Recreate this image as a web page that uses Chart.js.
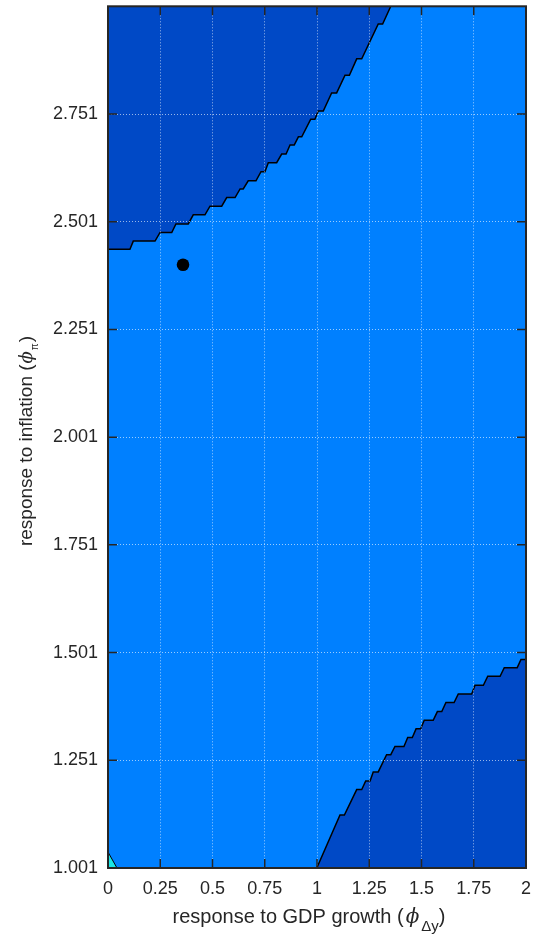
<!DOCTYPE html>
<html lang="en">
<head>
    <meta charset="UTF-8">
    <title>Determinacy region</title>
    <script src="https://cdn.jsdelivr.net/npm/chart.js"></script>
    <style>
        html, body { margin: 0; padding: 0; background: #ffffff; }
        #wrap { width: 535px; height: 940px; }
    </style>
</head>
<body>
    <div id="wrap"><canvas id="regionChart" width="535" height="940"></canvas></div>

    <script>
        // tick labels
        const xTicks = [0, 0.25, 0.5, 0.75, 1, 1.25, 1.5, 1.75, 2];
        const yTicks = [1.001, 1.251, 1.501, 1.751, 2.001, 2.251, 2.501, 2.751];

        // upper-left region boundary (contour line)
        const upperX = [0, 0.105, 0.121, 0.225, 0.249, 0.305, 0.325, 0.384, 0.408, 0.464, 0.488, 0.544, 0.568, 0.608,
            0.632, 0.647, 0.671, 0.708, 0.732, 0.751, 0.767, 0.807, 0.831, 0.852, 0.871, 0.891, 0.911, 0.927,
            0.970, 0.990, 1.006, 1.030, 1.070, 1.094, 1.134, 1.155, 1.190, 1.214, 1.293, 1.314, 1.353];
        const upperY = [2.437, 2.437, 2.456, 2.456, 2.476, 2.476, 2.496, 2.496, 2.517, 2.517, 2.537, 2.537, 2.557, 2.557,
            2.577, 2.577, 2.596, 2.596, 2.617, 2.617, 2.638, 2.638, 2.658, 2.658, 2.679, 2.679, 2.698, 2.698,
            2.739, 2.739, 2.758, 2.758, 2.800, 2.800, 2.841, 2.841, 2.879, 2.879, 2.960, 2.960, 3.001];

        // lower-right region boundary
        const lowerX = [0.999, 1.110, 1.131, 1.190, 1.214, 1.233, 1.254, 1.269, 1.293, 1.333, 1.353, 1.373, 1.416,
            1.434, 1.456, 1.474, 1.496, 1.513, 1.556, 1.576, 1.597, 1.617, 1.656, 1.676, 1.740, 1.756, 1.796,
            1.817, 1.876, 1.896, 1.958, 1.976, 2.0];
        const lowerY = [1.001, 1.124, 1.124, 1.183, 1.183, 1.203, 1.203, 1.224, 1.224, 1.264, 1.264, 1.283, 1.283,
            1.304, 1.304, 1.324, 1.324, 1.344, 1.344, 1.364, 1.364, 1.385, 1.385, 1.405, 1.405, 1.425, 1.425,
            1.446, 1.446, 1.466, 1.466, 1.485, 1.485];

        // little corner region
        const cornerX = [0, 0.043];
        const cornerY = [1.038, 1.001];

        // calibrated point
        const pointX = [0.359];
        const pointY = [2.401];

        const lightBlue = '#0080ff';
        const darkBlue = '#0049c6';
        const cyan = '#19e6e6';
        const axisColor = '#262626';
        const fontFam = '"Liberation Sans", Arial, sans-serif';

        function pts(xs, ys) {
            return xs.map((x, i) => ({ x: x, y: ys[i] }));
        }

        const backgroundPlugin = {
            id: 'plotBg',
            beforeDatasetsDraw(chart) {
                const { ctx, chartArea: a } = chart;
                ctx.save();
                ctx.fillStyle = lightBlue;
                ctx.fillRect(a.left, a.top, a.right - a.left, a.bottom - a.top);
                ctx.restore();
            }
        };

        function drawParts(ctx, parts, cx, baseY) {
            let total = 0;
            parts.forEach(p => { ctx.font = p.f; p.w = ctx.measureText(p.t).width + (p.gap || 0); total += p.w; });
            let x = cx - total / 2;
            parts.forEach(p => {
                ctx.font = p.f;
                ctx.fillText(p.t, x, baseY + (p.dy || 0));
                x += p.w;
            });
        }

        const framePlugin = {
            id: 'frame',
            afterDraw(chart) {
                const { ctx, chartArea: a, scales } = chart;
                ctx.save();
                ctx.strokeStyle = axisColor;
                ctx.lineWidth = 1.5;
                // inward tick marks on all four sides
                ctx.beginPath();
                xTicks.forEach(v => {
                    const px = scales.x.getPixelForValue(v);
                    ctx.moveTo(px, a.bottom); ctx.lineTo(px, a.bottom - 9);
                    ctx.moveTo(px, a.top); ctx.lineTo(px, a.top + 9);
                });
                yTicks.forEach(v => {
                    const py = scales.y.getPixelForValue(v);
                    ctx.moveTo(a.left, py); ctx.lineTo(a.left + 9, py);
                    ctx.moveTo(a.right, py); ctx.lineTo(a.right - 9, py);
                });
                ctx.stroke();
                ctx.lineWidth = 2;
                ctx.strokeRect(a.left, a.top, a.right - a.left, a.bottom - a.top);

                // axis titles with greek subscripts
                ctx.fillStyle = axisColor;
                ctx.textBaseline = 'alphabetic';
                drawParts(ctx, [
                    { t: 'response to GDP growth (', f: '20px ' + fontFam, gap: 2 },
                    { t: 'ϕ', f: 'italic 20px "DejaVu Serif", serif', gap: 2 },
                    { t: 'Δy', f: '15px ' + fontFam, dy: 8 },
                    { t: ')', f: '20px ' + fontFam }
                ], 309, 923);

                ctx.translate(32, 441);
                ctx.rotate(-Math.PI / 2);
                drawParts(ctx, [
                    { t: 'response to inflation (', f: '19px ' + fontFam, gap: 1 },
                    { t: 'ϕ', f: 'italic 18px "DejaVu Serif", serif', gap: 1 },
                    { t: 'π', f: '10px ' + fontFam, dy: 6, gap: 1 },
                    { t: ')', f: '19px ' + fontFam }
                ], 0, 0);
                ctx.restore();
            }
        };

        const gridOpts = { color: 'rgba(255,255,255,0.6)', lineWidth: 1, drawTicks: false, tickLength: 0, z: 1 };

        const ctx = document.getElementById('regionChart').getContext('2d');
        const regionChart = new Chart(ctx, {
            type: 'line',
            data: {
                datasets: [
                    {
                        type: 'scatter',
                        data: pts(pointX, pointY),
                        backgroundColor: '#000000',
                        borderColor: '#000000',
                        pointRadius: 6.3,
                        borderWidth: 0
                    },
                    {
                        data: pts(upperX, upperY),
                        borderColor: '#000000',
                        borderWidth: 1.5,
                        backgroundColor: darkBlue,
                        fill: 'end',
                        pointRadius: 0,
                        tension: 0
                    },
                    {
                        data: pts(lowerX, lowerY),
                        borderColor: '#000000',
                        borderWidth: 1.5,
                        backgroundColor: darkBlue,
                        fill: 'start',
                        pointRadius: 0,
                        tension: 0
                    },
                    {
                        data: pts(cornerX, cornerY),
                        borderColor: '#000000',
                        borderWidth: 1,
                        backgroundColor: cyan,
                        fill: 'start',
                        pointRadius: 0,
                        tension: 0
                    }
                ]
            },
            options: {
                responsive: false,
                animation: false,
                layout: { padding: { top: 4, right: 9, left: 0, bottom: 0 } },
                plugins: {
                    legend: { display: false },
                    tooltip: { enabled: false }
                },
                scales: {
                    x: {
                        type: 'linear',
                        min: 0,
                        max: 2,
                        afterBuildTicks: s => { s.ticks = xTicks.map(v => ({ value: v })); },
                        afterFit: s => { s.height = 72; s.paddingLeft = 0; s.paddingRight = 0; },
                        grid: gridOpts,
                        border: { display: false, dash: [1, 2] },
                        ticks: {
                            padding: 10,
                            maxRotation: 0,
                            autoSkip: false,
                            color: axisColor,
                            font: { family: fontFam, size: 18 },
                            callback: v => String(v)
                        }
                    },
                    y: {
                        type: 'linear',
                        min: 1.001,
                        max: 3.001,
                        afterBuildTicks: s => { s.ticks = yTicks.map(v => ({ value: v })); },
                        afterFit: s => { s.width = 108; s.paddingTop = 0; s.paddingBottom = 0; },
                        grid: gridOpts,
                        border: { display: false, dash: [1, 2] },
                        ticks: {
                            padding: 10,
                            autoSkip: false,
                            color: axisColor,
                            font: { family: fontFam, size: 18 },
                            callback: v => v.toFixed(3)
                        }
                    }
                }
            },
            plugins: [backgroundPlugin, framePlugin]
        });
    </script>
</body>
</html>
